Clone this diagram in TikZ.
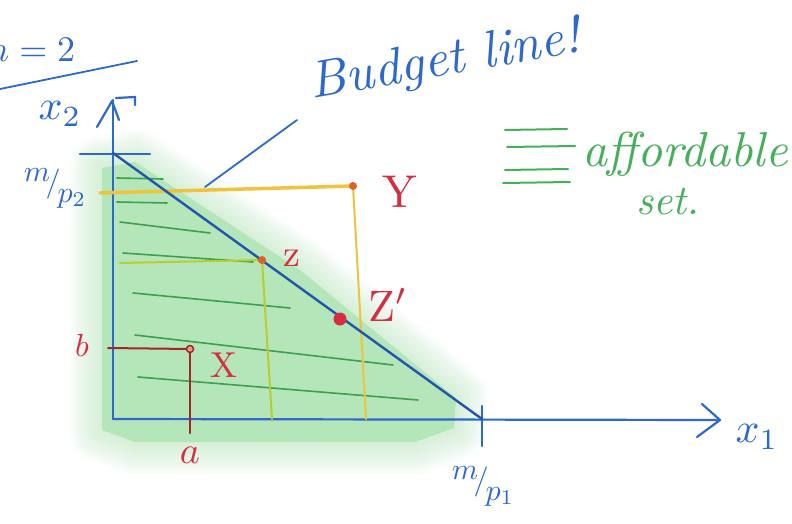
\documentclass[tikz,border=0pt]{standalone}
\begin{document}
\definecolor{axisblue}{RGB}{45,105,205}
\definecolor{budgetblue}{RGB}{35,85,175}
\definecolor{penred}{RGB}{215,45,65}
\definecolor{darkred}{RGB}{160,40,40}
\definecolor{penyellow}{RGB}{240,195,60}
\definecolor{penorange}{RGB}{225,95,40}
\definecolor{pengreen}{RGB}{70,175,90}
\definecolor{hatchgreen}{RGB}{60,160,80}
\definecolor{limegreen}{RGB}{185,205,45}
\definecolor{shadegreen}{RGB}{180,230,185}
\begin{tikzpicture}[x=1pt,y=-1pt,
  axis/.style={axisblue,line width=2.2pt,line cap=round,line join=round},
  budget/.style={budgetblue,line width=2.4pt,line cap=round},
  hatch/.style={hatchgreen,line width=1.6pt,line cap=round},
  guide/.style={line width=2pt,line cap=round},
  bluelbl/.style={text=axisblue,inner sep=0pt},
  redlbl/.style={text=penred,inner sep=0pt},
  greenlbl/.style={text=pengreen,inner sep=0pt},
  dot/.style={circle,inner sep=0pt,minimum size=#1}
]
\useasboundingbox (0,0) rectangle (792,524);
\clip (0,0) rectangle (792,524);
\fill[white] (0,0) rectangle (792,524);

% soft green shading of the affordable region
\def\shadepoly{(102,168) -- (135,162) -- (300,270) -- (456,398) -- (454,428) -- (415,442) -- (135,442) -- (102,430) -- cycle}
\foreach \w in {64,58,...,2}
  \draw[shadegreen,line width=\w pt,opacity=0.06,line join=round] \shadepoly;
\fill[shadegreen] \shadepoly;

% key coordinates
\coordinate (O) at (113,419);
\coordinate (ytop) at (113,100);
\coordinate (xend) at (720,420);
\coordinate (B2) at (113,153);
\coordinate (B1) at (482,419);
\coordinate (ytickL) at (80,154);
\coordinate (ytickR) at (150,154);
\coordinate (xtickT) at (482,406);
\coordinate (xtickB) at (482,446);

% green hatching
\draw[hatch] (117,178) -- (163,179);
\draw[hatch] (117,202) -- (167,203);
\draw[hatch] (120,222) -- (210,233);
\draw[hatch] (123,253) -- (253,262);
\draw[hatch] (133,293) -- (290,308);
\draw[hatch] (135,335) -- (393,365);
\draw[hatch] (138,377) -- (418,400);

% axes
\draw[axis] (O) -- (ytop);
\draw[axis] (97,127) -- (112,101) -- (119,120);
\draw[axis] (116,98) -- (135,97) -- (135,105);
\draw[axis] (O) -- (xend);
\coordinate (xa1) at (702,404);
\coordinate (xa2) at (697,437);
\draw[axis] (xa1) -- (xend) -- (xa2);
\draw[axis] (ytickL) -- (ytickR);
\draw[axis] (xtickT) -- (xtickB);

% points
\coordinate (Ypt) at (353,186);
\coordinate (Zpt) at (262,260);
\coordinate (Zp) at (340,319);
\coordinate (Xpt) at (190,349);
\coordinate (yl) at (100,193);
\coordinate (ybot) at (366,419);
\coordinate (zl) at (120,263);
\coordinate (zbot) at (272,419);
\coordinate (bl) at (108,348);
\coordinate (abot) at (190,433);

% guide lines
\draw[guide,penyellow,line width=3.5pt] (yl) -- (Ypt);
\draw[guide,penyellow] (Ypt) -- (ybot);
\draw[guide,limegreen] (zl) -- (Zpt);
\draw[guide,limegreen] (Zpt) -- (zbot);
\draw[guide,darkred] (bl) -- (Xpt);
\draw[guide,darkred,line width=2.5pt] (Xpt) -- (abot);

% budget line
\draw[budget] (B2) -- (B1);
\coordinate (bl1) at (297,120);
\coordinate (bl2) at (205,187);
\draw[axis,line width=1.8pt] (bl1) -- (bl2);

\node[dot=8pt,fill=penorange] at (Ypt) {};
\node[dot=8pt,fill=penorange] at (Zpt) {};
\node[dot=13pt,fill=penred] at (Zp) {};
\node[dot=7pt,draw=darkred,line width=1.5pt,fill=penorange!60] at (Xpt) {};

% legend
\draw[hatch,pengreen,line width=2pt] (505,130) -- (567,129);
\draw[hatch,pengreen,line width=2pt] (507,147) -- (575,146);
\draw[hatch,pengreen,line width=2pt] (505,170) -- (568,169);
\draw[hatch,pengreen,line width=2pt] (503,183) -- (570,182);

% labels (base size 10pt, scaled)
\node[bluelbl,font=\itshape,scale=5.2,rotate=10] (budgetlbl) at (445,62) {Budget line!};
\node[greenlbl,font=\itshape,scale=4.9] (afflbl) at (685,154) {affordable};
\node[greenlbl,font=\itshape,scale=4.2] (setlbl) at (668,202) {set.};
\node[bluelbl,scale=3.6,anchor=east] (mlbl) at (76,50) {$m=2$};
\draw[axis,line width=1.8pt] (0,89) -- (137,61);
\node[bluelbl,scale=4.2] (x2lbl) at (60,114) {$x_2$};
\node[bluelbl,scale=4.2] (x1lbl) at (757,437) {$x_1$};
\node[bluelbl,scale=3.0] (mp2) at (55,188) {\raisebox{0.35em}{$m$}\kern-0.15em$/$\kern-0.1em\raisebox{-0.35em}{$p_2$}};
\node[bluelbl,scale=3.0] (mp1) at (483,486) {\raisebox{0.35em}{$m$}\kern-0.15em$/$\kern-0.1em\raisebox{-0.35em}{$p_1$}};
\node[redlbl,scale=3.2] (blbl) at (82,345) {$b$};
\node[redlbl,scale=3.8] (albl) at (190,455) {$a$};
\node[redlbl,scale=3.6] (Xlbl) at (224,365) {X};
\node[redlbl,scale=4.6] (Ylbl) at (400,192) {Y};
\node[redlbl,scale=3.8] (zlbl) at (292,258) {z};
\node[redlbl,scale=4.4] (Zplbl) at (388,305) {Z$'$};
\end{tikzpicture}
\end{document}
